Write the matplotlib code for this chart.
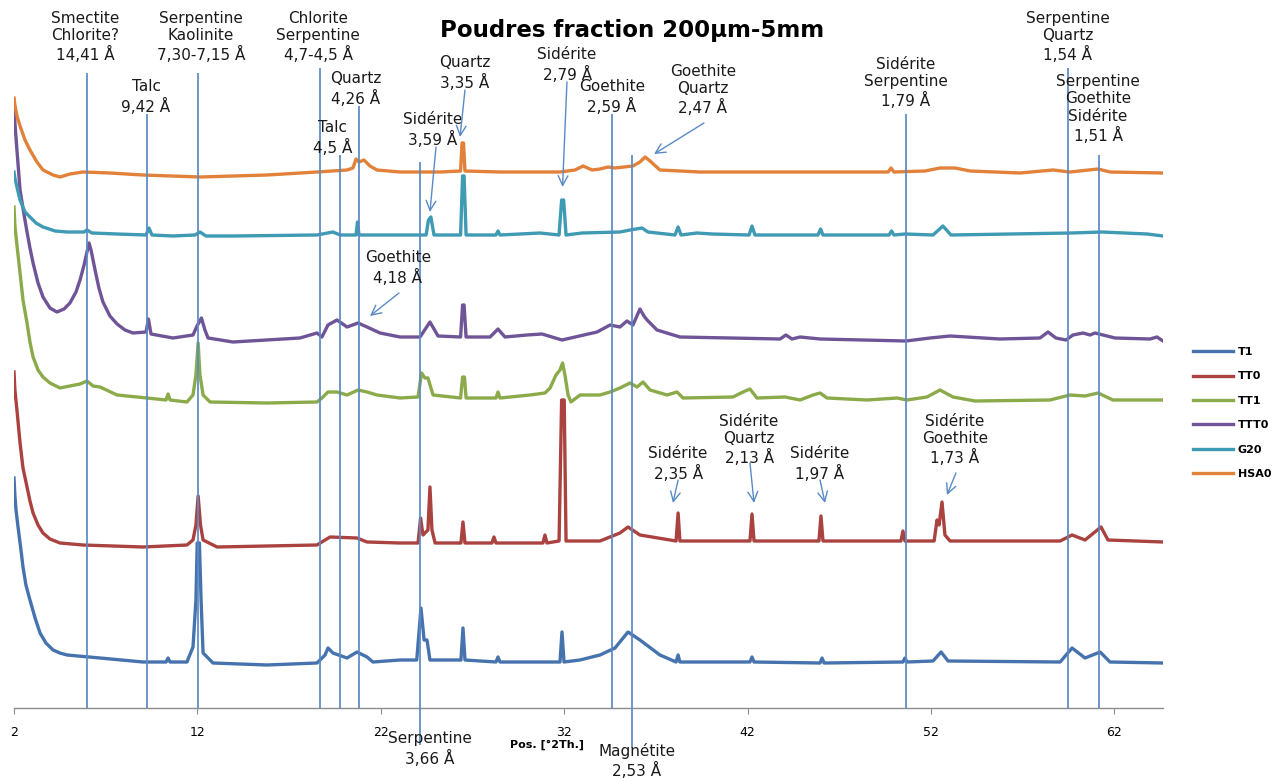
import matplotlib
matplotlib.use("Agg")
import matplotlib.pyplot as plt

# ---- diffractograms (2theta in degrees, intensity in stacked arbitrary units) ----
t1_x = [2.00, 2.05, 2.11, 2.22, 2.38, 2.49, 2.65, 2.87, 3.15, 3.42, 3.74, 4.13, 4.50, 4.89, 6.69,
        9.03, 10.29, 10.40, 10.51, 11.43, 11.76, 11.92, 11.99, 12.11, 12.20, 12.31, 12.85, 15.80,
        18.52, 18.96, 19.12, 19.39, 20.16, 20.70, 21.25, 21.57, 23.05, 23.96, 24.19, 24.36, 24.52,
        24.68, 26.37, 26.48, 26.59, 28.28, 28.39, 28.50, 31.77, 31.88, 31.99, 32.86, 33.95, 34.77,
        35.48, 36.13, 37.22, 38.10, 38.21, 38.31, 42.13, 42.24, 42.35, 45.95, 46.06, 46.17, 50.47,
        50.58, 50.69, 52.11, 52.55, 52.93, 59.04, 59.69, 60.40, 61.22, 61.76, 64.65]
t1_y = [230, 212, 198, 181, 158, 141, 123, 108, 90, 75, 65, 58, 55, 53, 50,
        46, 46, 50, 46, 46, 61, 108, 165, 165, 108, 55, 45, 43,
        45, 53, 60, 55, 50, 56, 51, 46, 48, 48, 100, 68, 68,
        48, 48, 80, 48, 46, 51, 46, 46, 76, 46, 48, 53, 60,
        76, 68, 53, 46, 53, 46, 46, 51, 46, 45, 50, 45, 46,
        50, 46, 47, 56, 47, 46, 60, 50, 56, 46, 45]

tt0_x = [2.00, 2.05, 2.16, 2.33, 2.49, 2.71, 2.87, 3.04, 3.31, 3.58, 3.96, 4.51, 5.76, 9.03, 11.43,
         11.76, 11.92, 12.04, 12.17, 12.31, 13.07, 18.52, 19.23, 20.70, 21.25, 23.05, 24.03, 24.17,
         24.30, 24.57, 24.68, 24.79, 24.96, 26.37, 26.48, 26.59, 28.06, 28.17, 28.28, 30.84, 30.95,
         31.06, 31.72, 31.86, 32.00, 32.10, 33.95, 35.04, 35.48, 36.13, 38.10, 38.21, 38.31, 42.13,
         42.24, 42.35, 45.89, 46.00, 46.11, 50.36, 50.47, 50.58, 52.17, 52.33, 52.44, 52.60, 52.76,
         53.04, 59.04, 59.69, 60.40, 61.27, 61.65, 64.65]
tt0_y = [336, 318, 298, 265, 240, 221, 207, 195, 183, 175, 169, 165, 163, 161, 163,
         168, 183, 212, 183, 168, 161, 163, 171, 170, 166, 165, 165, 190,
         173, 178, 221, 178, 165, 165, 186, 165, 165, 171, 165, 165, 173,
         165, 167, 308, 308, 167, 167, 175, 181, 173, 167, 195, 167, 167,
         194, 167, 167, 192, 167, 167, 177, 167, 167, 188, 183, 206, 173,
         167, 167, 173, 168, 181, 168, 166]

tt1_x = [2.00, 2.05, 2.16, 2.33, 2.49, 2.71, 2.87, 3.04, 3.31, 3.58, 3.96, 4.51, 5.05, 5.60, 5.98,
         6.31, 6.69, 7.62, 9.25, 10.29, 10.40, 10.51, 11.43, 11.76, 11.92, 12.04, 12.14, 12.31,
         12.69, 15.80, 18.52, 18.79, 19.12, 19.61, 20.16, 20.76, 21.25, 21.79, 23.05, 24.03, 24.22,
         24.41, 24.57, 24.85, 26.35, 26.46, 26.56, 26.65, 28.28, 28.39, 28.50, 30.14, 30.95, 31.23,
         31.55, 31.77, 31.91, 32.04, 32.21, 32.37, 32.86, 33.95, 34.50, 35.04, 35.59, 35.97, 36.30,
         36.68, 37.61, 38.15, 38.48, 41.20, 41.75, 42.13, 42.51, 44.04, 44.86, 45.57, 45.95, 46.33,
         48.51, 50.15, 50.69, 51.78, 52.49, 53.20, 54.40, 58.49, 59.58, 60.40, 61.11, 61.92, 64.65]
tt1_y = [501, 482, 463, 435, 408, 385, 366, 351, 338, 331, 325, 320, 322, 324, 327,
         322, 321, 313, 310, 308, 314, 308, 306, 313, 333, 365, 333, 313,
         306, 305, 306, 310, 316, 316, 313, 318, 316, 313, 310, 311, 335,
         330, 330, 313, 310, 331, 331, 310, 310, 316, 310, 313, 315, 320,
         333, 338, 345, 333, 313, 306, 313, 313, 316, 320, 325, 321, 326,
         318, 313, 316, 310, 311, 316, 319, 310, 311, 308, 313, 315, 310,
         308, 310, 308, 311, 318, 311, 307, 308, 313, 312, 315, 308, 308]

ttt0_x = [2.00, 2.05, 2.16, 2.33, 2.55, 2.71, 2.87, 3.04, 3.31, 3.58, 3.96, 4.34, 4.73, 5.05, 5.38,
          5.60, 5.82, 5.98, 6.09, 6.20, 6.42, 6.63, 6.85, 7.23, 7.62, 8.05, 8.49, 9.20, 9.33, 9.47,
          10.67, 11.76, 11.98, 12.22, 12.41, 12.58, 13.94, 17.59, 18.52, 18.79, 19.12, 19.61, 20.16,
          20.76, 21.25, 21.96, 23.05, 24.14, 24.68, 25.12, 26.35, 26.46, 26.54, 26.65, 27.96, 28.39,
          28.77, 29.97, 30.79, 31.88, 33.79, 34.50, 35.04, 35.42, 35.75, 36.13, 36.35, 36.52, 37.06,
          38.31, 43.77, 44.09, 44.42, 44.86, 45.95, 50.64, 51.95, 53.04, 55.76, 57.94, 58.38, 58.81,
          59.36, 59.74, 60.29, 60.67, 60.94, 61.38, 62.03, 63.94, 64.32, 64.65]
ttt0_y = [608, 585, 558, 518, 493, 476, 460, 445, 425, 411, 400, 396, 399, 405, 416,
          428, 443, 456, 465, 458, 438, 420, 406, 392, 384, 378, 375, 376, 389, 374,
          370, 373, 382, 390, 378, 370, 366, 370, 375, 371, 383, 388, 381,
          385, 381, 375, 371, 371, 386, 372, 371, 403, 403, 371, 371, 379,
          371, 373, 374, 368, 376, 383, 381, 387, 383, 399, 392, 388, 378,
          371, 369, 373, 369, 371, 369, 367, 370, 372, 369, 370, 376, 370,
          368, 373, 375, 373, 375, 373, 370, 369, 371, 367]

g20_x = [2.00, 2.05, 2.16, 2.33, 2.60, 2.87, 3.20, 3.58, 4.24, 4.89, 5.82, 5.98, 6.25, 7.62, 9.20,
         9.36, 9.52, 10.67, 11.87, 12.14, 12.47, 13.94, 18.52, 19.39, 19.78, 20.65, 20.73, 20.81,
         23.05, 24.47, 24.60, 24.73, 24.90, 26.35, 26.46, 26.54, 26.65, 28.28, 28.39, 28.50, 30.68,
         31.72, 31.86, 31.97, 32.10, 32.97, 35.04, 35.59, 36.24, 36.57, 38.04, 38.21, 38.37, 39.24,
         40.06, 42.08, 42.24, 42.40, 45.84, 45.98, 46.11, 49.71, 49.85, 49.98, 50.58, 52.11, 52.65,
         53.09, 59.63, 61.32, 63.78, 64.65]
g20_y = [536, 530, 521, 508, 496, 491, 485, 481, 477, 476, 476, 478, 475, 474, 473,
         480, 473, 472, 473, 476, 472, 472, 473, 476, 473, 473, 486, 473,
         473, 473, 488, 491, 473, 473, 532, 532, 473, 473, 477, 473, 475,
         473, 508, 508, 473, 475, 476, 478, 480, 476, 473, 481, 473, 475,
         474, 473, 482, 473, 473, 479, 473, 473, 477, 473, 474, 473, 482,
         473, 475, 476, 474, 472]

hsa0_x = [2.00, 2.05, 2.16, 2.33, 2.60, 2.87, 3.25, 3.58, 4.13, 4.51, 5.05, 5.76, 7.23, 9.03, 12.14,
          15.80, 18.52, 20.16, 20.48, 20.65, 20.81, 21.08, 21.41, 21.79, 23.05, 25.23, 26.35, 26.43,
          26.51, 26.59, 28.50, 31.77, 32.59, 33.03, 33.52, 33.95, 34.39, 34.77, 35.75, 36.13, 36.41,
          36.68, 37.22, 39.40, 43.77, 49.66, 49.82, 49.98, 51.67, 52.49, 53.31, 54.13, 56.85, 58.65,
          59.58, 61.11, 61.76, 64.65]
hsa0_y = [610, 603, 592, 582, 568, 558, 546, 538, 533, 531, 534, 536, 535, 533, 531,
          533, 536, 538, 540, 549, 546, 548, 542, 538, 536, 536, 537, 565,
          565, 537, 536, 536, 538, 542, 538, 539, 541, 540, 542, 546, 551,
          547, 538, 536, 536, 536, 540, 536, 537, 540, 540, 537, 535, 538,
          536, 539, 536, 535]

series_names = ["T1", "TT0", "TT1", "TTT0", "G20", "HSA0"]
series_x = [t1_x, tt0_x, tt1_x, ttt0_x, g20_x, hsa0_x]
series_y = [t1_y, tt0_y, tt1_y, ttt0_y, g20_y, hsa0_y]
series_colors = ["#4673AD", "#AA423F", "#8BAB4A", "#6F5497", "#3F9AB3", "#E2813A"]

# ---- phase identification marks ----
mark_pos = [5.98, 9.25, 12.03, 18.68, 19.78, 20.81, 24.14, 34.61, 35.70, 50.64, 59.47, 61.16]
mark_top = [635, 594, 635, 640, 553, 602, 546, 594, 553, 594, 640, 553]
mark_bottom = [0, 0, 0, 0, 0, 0, -37, 0, -40, 0, 0, 0]

# labels standing above their mark: (text, 2theta, vertical centre)
top_labels = [
    ("Smectite\nChlorite?\n14,41 Å", 5.90, 671),
    ("Talc\n9,42 Å", 9.20, 611),
    ("Serpentine\nKaolinite\n7,30-7,15 Å", 12.20, 671),
    ("Chlorite\nSerpentine\n4,7-4,5 Å", 18.58, 671),
    ("Quartz\n4,26 Å", 20.65, 619),
    ("Talc\n4,5 Å", 19.39, 570),
    ("Quartz\n3,35 Å", 26.59, 635),
    ("Sidérite\n2,79 Å", 32.16, 643),
    ("Goethite\n2,59 Å", 34.60, 611),
    ("Goethite\nQuartz\n2,47 Å", 39.56, 618),
    ("Sidérite\nSerpentine\n1,79 Å", 50.64, 625),
    ("Serpentine\nQuartz\n1,54 Å", 59.47, 671),
    ("Serpentine\nGoethite\nSidérite\n1,51 Å", 61.11, 599),
]
# labels pointing at a peak with an arrow: (text, 2theta, centre, arrow start, arrow end)
arrow_labels = [
    ("Sidérite\n3,59 Å", 24.85, 578, (25.01, 561), (24.68, 496)),
    ("Goethite\n4,18 Å", 22.93, 440, (22.99, 415), (21.41, 392)),
    ("Sidérite\n2,35 Å", 38.21, 244, (38.21, 228), (37.93, 205)),
    ("Sidérite\nQuartz\n2,13 Å", 42.08, 268, (42.13, 245), (42.35, 205)),
    ("Sidérite\n1,97 Å", 45.95, 244, (45.95, 228), (46.22, 205)),
    ("Sidérite\nGoethite\n1,73 Å", 53.31, 268, (53.36, 235), (52.87, 213)),
]
arrow_only = [((26.59, 618), (26.32, 571)), ((32.15, 626), (31.91, 521)),
              ((39.62, 585), (36.90, 554))]
bottom_labels = [("Serpentine\n3,66 Å", 24.68, -41), ("Magnétite\n2,53 Å", 35.97, -53)]

x_ticks = [2, 12, 22, 32, 42, 52, 62]

plt.rcParams["font.family"] = ["DejaVu Sans"]

fig = plt.figure(figsize=(12.77, 7.78), dpi=100)
ax = fig.add_axes([14 / 1277, 70 / 778, 1149 / 1277, 708 / 778])
ax.set_xlim(2, 64.65)
ax.set_ylim(0, 708)

handles = []
for name, xs, ys, col in zip(series_names, series_x, series_y, series_colors):
    ln, = ax.plot(xs, ys, color=col, lw=2.4, solid_joinstyle="round", zorder=2, label=name)
    handles.append(ln)

mark_col = "#5A8AC6"
ax.vlines(mark_pos, mark_bottom, mark_top, colors=mark_col, lw=1.25, zorder=3, clip_on=False)

lab_kw = dict(ha="center", va="center", fontsize=11, linespacing=1.22, color="#1a1a1a",
              clip_on=False, zorder=4)
for txt, x, y in top_labels:
    ax.text(x, y, txt, **lab_kw)
for txt, x, y in bottom_labels:
    ax.text(x, y, txt, **lab_kw)
arrow_kw = dict(arrowstyle="->,head_length=0.7,head_width=0.35", color=mark_col, lw=1.0,
                shrinkA=0, shrinkB=0)
for txt, x, y, start, end in arrow_labels:
    ax.text(x, y, txt, **lab_kw)
    ax.annotate("", xy=end, xytext=start, arrowprops=arrow_kw, zorder=4)
for start, end in arrow_only:
    ax.annotate("", xy=end, xytext=start, arrowprops=arrow_kw, zorder=4)

for side in ("left", "right", "top"):
    ax.spines[side].set_visible(False)
ax.spines["bottom"].set_color("#8C8C8C")
ax.spines["bottom"].set_linewidth(1.0)
ax.set_yticks([])
ax.set_xticks(x_ticks)
ax.set_xticklabels([str(t) for t in x_ticks])
ax.tick_params(axis="x", direction="out", length=4, color="#8C8C8C", pad=9, labelsize=9)

ax.text(31.06, -37, "Pos. [°2Th.]", ha="center", va="center", fontsize=8,
        fontweight="bold", clip_on=False)

fig.text(632 / 1277, 1 - 30 / 778, "Poudres fraction 200µm-5mm", ha="center", va="center",
         fontsize=16.5, fontweight="bold")

fig.legend(handles, series_names, loc="upper left", bbox_to_anchor=(1183 / 1277, 1 - 337 / 778),
           frameon=False, handlelength=3.6, handletextpad=0.45, labelspacing=1.3,
           prop={"size": 8, "weight": "bold"})

fig.savefig("out.png", dpi=100)
